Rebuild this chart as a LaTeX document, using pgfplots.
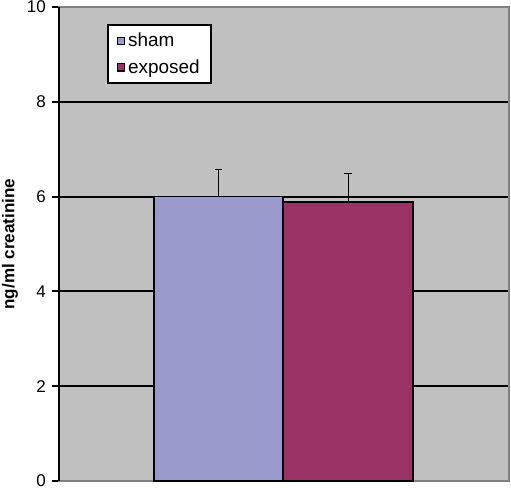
\documentclass[border=0pt]{standalone}
\usepackage{fontspec}
\setmainfont{Liberation Sans}
\usepackage{pgfplots}
\pgfplotsset{compat=1.18}

\definecolor{plotbg}{HTML}{C0C0C0}
\definecolor{shamc}{HTML}{9999CC}
\definecolor{expc}{HTML}{993366}
\definecolor{frame}{HTML}{808080}

\begin{document}
\begin{tikzpicture}
  \begin{axis}[
      scale only axis=true,
      width=337.5pt, height=355.5pt,
      xmin=-0.232, xmax=3.243,
      ymin=0, ymax=10,
      ytick={0,2,4,6,8,10},
      xtick=\empty,
      clip=false,
      axis background/.style={fill=plotbg},
      axis line style={frame, line width=1.5pt},
      ymajorgrids=true,
      grid style={black, line width=1.4pt},
      tick style={black, line width=1.4pt},
      major tick length=5.25pt,
      ytick pos=left,
      tick align=outside,
      /pgf/number format/assume math mode=true,
      ticklabel style={font=\fontsize{12.75}{14}\selectfont},
      yticklabel style={anchor=east, inner sep=0pt, xshift=-4.5pt},
      ylabel={\textbf{ng/ml creatinine}},
      ylabel style={font=\fontsize{12.8}{14}\selectfont,
        at={(axis description cs:0,0.5)}, anchor=center,
        inner sep=0pt, yshift=36.75pt},
      ybar=0pt, bar width=1,
      legend cell align=left,
      legend style={
        at={(0.107,0.964)}, anchor=north west,
        fill=white, draw=black, line width=1.4pt,
        font=\fontsize{14.2}{16}\selectfont,
        row sep=4pt, inner xsep=6.5pt, inner ysep=4pt},
      legend image code/.code={
        \draw[#1, draw=black, line width=0.8pt] (0cm,-0.1cm) rectangle (0.2cm,0.1cm);},
    ]
    \addplot+[bar shift=0pt, fill=shamc, draw=black, line width=1.2pt,
      error bars/.cd, y dir=plus, y explicit,
      error bar style={black, line width=0.8pt},
      error mark options={rotate=90, mark size=2.7pt, black, line width=0.8pt}]
      coordinates {(1,6.0) +- (0,0.58)};
    \addplot+[bar shift=0pt, fill=expc, draw=black, line width=1.2pt,
      error bars/.cd, y dir=plus, y explicit,
      error bar style={black, line width=0.8pt},
      error mark options={rotate=90, mark size=2.7pt, black, line width=0.8pt}]
      coordinates {(2,5.89) +- (0,0.59)};
    \draw[black, line width=1.5pt] (rel axis cs:0,0) -- (rel axis cs:0,1);
    \legend{sham, exposed}
  \end{axis}
  \pgfresetboundingbox
  \path (current axis.south west) +(-44.25pt,-6pt) coordinate (bbA);
  \path (current axis.north east) +(1.5pt,5.25pt) coordinate (bbB);
  \useasboundingbox (bbA) rectangle (bbB);
\end{tikzpicture}
\end{document}
